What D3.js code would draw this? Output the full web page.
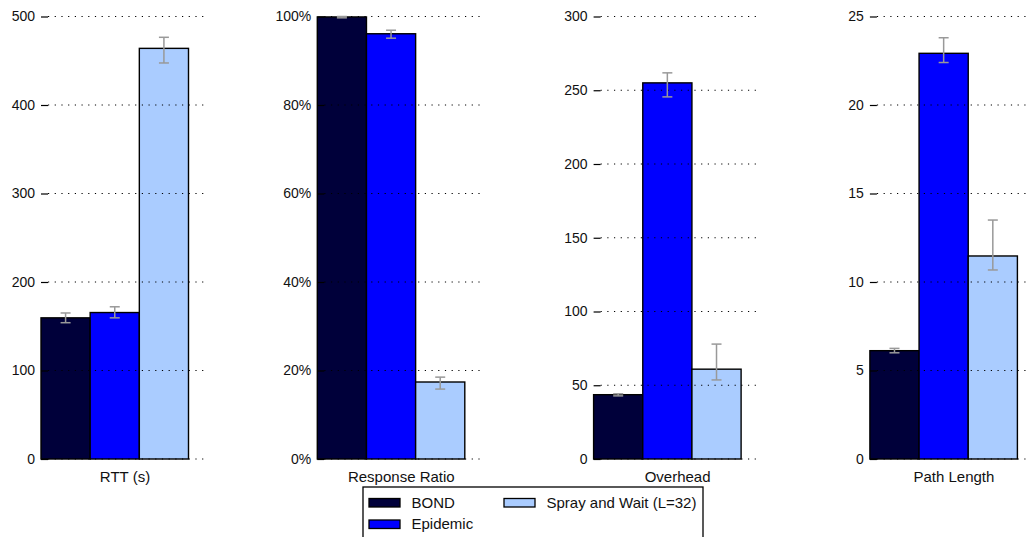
<!DOCTYPE html>
<html>
<head>
<meta charset="utf-8">
<script src="https://cdn.jsdelivr.net/npm/d3@7"></script>
<style>
  html, body { margin: 0; padding: 0; background: #fff; }
  svg { display: block; font-family: "Liberation Sans", Arial, sans-serif; }
</style>
</head>
<body>
<svg id="chart" width="1028" height="537"></svg>
<script>
// Routing protocols compared
const methods = ["BOND", "Epidemic", "Spray and Wait (L=32)"];
const colors = ["#00003a", "#0000ff", "#aaccff"];

// One panel per metric
const metrics = ["RTT (s)", "Response Ratio", "Overhead", "Path Length"];

// Mean values and error-bar bounds per method
const rttMean  = [159.5, 165.5, 464];
const rttLow   = [154, 159.5, 447.5];
const rttHigh  = [165, 172, 476.5];

const ratioMean = [99.9, 96.1, 17.4];
const ratioLow  = [99.7, 95.1, 15.8];
const ratioHigh = [100, 96.9, 18.5];

const overheadMean = [43.6, 255, 60.9];
const overheadLow  = [42.8, 245.5, 53.6];
const overheadHigh = [44.2, 261.8, 77.9];

const pathMean = [6.12, 22.92, 11.47];
const pathLow  = [6.0, 22.4, 10.68];
const pathHigh = [6.25, 23.8, 13.5];

// Axis ticks per panel
const rttTicks = [0, 100, 200, 300, 400, 500];
const ratioTicks = [0, 20, 40, 60, 80, 100];
const overheadTicks = [0, 50, 100, 150, 200, 250, 300];
const pathTicks = [0, 5, 10, 15, 20, 25];

const panels = [
  { label: metrics[0], mean: rttMean, low: rttLow, high: rttHigh, ticks: rttTicks, fmt: d => d },
  { label: metrics[1], mean: ratioMean, low: ratioLow, high: ratioHigh, ticks: ratioTicks, fmt: d => d + "%" },
  { label: metrics[2], mean: overheadMean, low: overheadLow, high: overheadHigh, ticks: overheadTicks, fmt: d => d },
  { label: metrics[3], mean: pathMean, low: pathLow, high: pathHigh, ticks: pathTicks, fmt: d => d }
];

const svg = d3.select("#chart");
const panelX0 = 41, panelStep = 276.3;
const barsW = 147.5, gridW = 166;
const yTop = 16.5, yBottom = 459;

panels.forEach((p, i) => {
  const g = svg.append("g").attr("transform", `translate(${panelX0 + i * panelStep},0)`);
  const yMax = p.ticks[p.ticks.length - 1];
  const y = d3.scaleLinear().domain([0, yMax]).range([yBottom, yTop]);
  const x = d3.scaleBand().domain(methods).range([0, barsW]).paddingInner(0).paddingOuter(0);

  // bars
  g.selectAll("rect.bar").data(methods).join("rect")
    .attr("class", "bar")
    .attr("x", d => x(d))
    .attr("width", x.bandwidth())
    .attr("y", (d, k) => y(p.mean[k]))
    .attr("height", (d, k) => yBottom - y(p.mean[k]))
    .attr("fill", (d, k) => colors[k])
    .attr("stroke", "#000")
    .attr("stroke-width", 1.4);

  // dotted grid lines drawn over the bars
  g.selectAll("line.grid").data(p.ticks).join("line")
    .attr("class", "grid")
    .attr("x1", 7).attr("x2", gridW)
    .attr("y1", d => y(d)).attr("y2", d => y(d))
    .attr("stroke", "#000")
    .attr("stroke-width", 1)
    .attr("stroke-dasharray", "1.2,5.5");

  // y axis: labels with short inward ticks, no domain line
  const axis = d3.axisLeft(y).tickValues(p.ticks).tickFormat(p.fmt).tickSizeInner(-7).tickSizeOuter(0).tickPadding(6);
  const ag = g.append("g").call(axis);
  ag.select(".domain").remove();
  ag.selectAll(".tick line").attr("stroke", "#000").attr("stroke-width", 1.2);
  ag.selectAll(".tick text").attr("font-size", 14).attr("fill", "#111")
    .attr("font-family", "Liberation Sans, Arial, sans-serif");

  // error bars
  const cap = 5;
  const eb = g.selectAll("g.err").data(methods).join("g").attr("class", "err");
  eb.append("line")
    .attr("x1", d => x(d) + x.bandwidth() / 2).attr("x2", d => x(d) + x.bandwidth() / 2)
    .attr("y1", (d, k) => y(p.low[k])).attr("y2", (d, k) => y(p.high[k]));
  eb.append("line")
    .attr("x1", d => x(d) + x.bandwidth() / 2 - cap).attr("x2", d => x(d) + x.bandwidth() / 2 + cap)
    .attr("y1", (d, k) => y(p.low[k])).attr("y2", (d, k) => y(p.low[k]));
  eb.append("line")
    .attr("x1", d => x(d) + x.bandwidth() / 2 - cap).attr("x2", d => x(d) + x.bandwidth() / 2 + cap)
    .attr("y1", (d, k) => y(p.high[k])).attr("y2", (d, k) => y(p.high[k]));
  eb.selectAll("line").attr("stroke", "#999").attr("stroke-width", 1.5);

  // metric label
  g.append("text")
    .attr("x", 84).attr("y", 482)
    .attr("text-anchor", "middle")
    .attr("font-size", 15)
    .attr("fill", "#111")
    .text(p.label);
});

// legend
const lg = svg.append("g");
lg.append("rect")
  .attr("x", 363).attr("y", 487).attr("width", 340).attr("height", 70)
  .attr("fill", "#fff").attr("stroke", "#000").attr("stroke-width", 1.3);
const legendPos = [
  { sx: 369, sy: 498.5, tx: 411.5, ty: 507.5 },
  { sx: 369, sy: 520, tx: 411.5, ty: 529 },
  { sx: 504, sy: 498.5, tx: 546.5, ty: 507.5 }
];
methods.forEach((m, k) => {
  const pos = legendPos[k];
  lg.append("rect")
    .attr("x", pos.sx).attr("y", pos.sy).attr("width", 31).attr("height", 8.5)
    .attr("fill", colors[k]).attr("stroke", "#000").attr("stroke-width", 1.3);
  lg.append("text")
    .attr("x", pos.tx).attr("y", pos.ty)
    .attr("font-size", 15).attr("fill", "#111")
    .text(m);
});
</script>
</body>
</html>
